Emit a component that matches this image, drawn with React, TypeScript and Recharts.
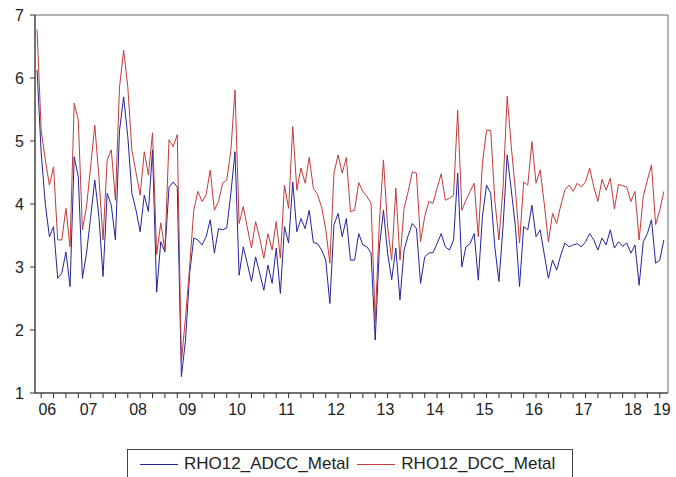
import { LineChart, Line, XAxis, YAxis, ReferenceArea } from 'recharts'

// monthly, Jun 2006 .. Feb 2019
const START_YEAR = 2006
const START_MONTH = 6

const adcc = [
  6.13, 4.81, 4.0, 3.48, 3.64, 2.82, 2.9, 3.24, 2.69, 4.75, 4.43, 2.82, 3.22, 3.8, 4.38, 3.8, 2.85, 4.17, 3.98, 3.43, 5.17, 5.7,
  5.07, 4.17, 3.9, 3.56, 4.14, 3.88, 4.86, 2.6, 3.4, 3.24, 4.27, 4.35, 4.27, 1.26, 1.84, 2.9, 3.46, 3.43, 3.35, 3.48, 3.75, 3.22,
  3.61, 3.59, 3.62, 4.17, 4.83, 2.87, 3.32, 3.05, 2.77, 3.16, 2.9, 2.63, 3.03, 2.74, 3.3, 2.58, 3.64, 3.38, 4.35, 3.56, 3.77, 3.61,
  3.9, 3.39, 3.37, 3.27, 3.11, 2.42, 3.67, 3.85, 3.48, 3.77, 3.11, 3.11, 3.53, 3.35, 3.32, 3.22, 1.84, 3.3, 3.9, 3.22, 2.8,
  3.3, 2.48, 3.27, 3.5, 3.69, 3.61, 2.74, 3.16, 3.22, 3.23, 3.37, 3.53, 3.32, 3.27, 3.43, 4.49, 3.0, 3.32, 3.37, 3.53, 2.79, 3.8,
  4.3, 4.17, 3.32, 2.77, 3.64, 4.78, 4.22, 3.64, 2.69, 3.64, 3.59, 3.98, 3.48, 3.59, 3.2, 2.82, 3.11, 2.95, 3.19, 3.38, 3.32, 3.35,
  3.37, 3.32, 3.4, 3.53, 3.43, 3.27, 3.46, 3.35, 3.59, 3.3, 3.4, 3.33, 3.38, 3.22, 3.35, 2.71, 3.4, 3.53, 3.75, 3.06, 3.11, 3.43,
]

const dcc = [
  6.77, 5.17, 4.7, 4.3, 4.59, 3.43, 3.43, 3.93, 3.32, 5.6, 5.33, 3.59, 3.96, 4.6, 5.25, 4.43, 3.43, 4.7, 4.86, 4.06, 5.86, 6.44,
  5.86, 4.85, 4.5, 4.14, 4.83, 4.46, 5.13, 3.2, 3.7, 3.27, 5.02, 4.91, 5.1, 1.5, 2.2, 3.0, 3.9, 4.2, 4.04, 4.15, 4.54, 3.9,
  4.04, 4.33, 4.38, 4.85, 5.81, 3.69, 3.96, 3.62, 3.3, 3.72, 3.45, 3.14, 3.53, 3.27, 3.72, 3.14, 4.3, 3.93, 5.23, 4.22, 4.57, 4.33,
  4.74, 4.25, 4.15, 3.95, 3.6, 3.06, 4.49, 4.78, 4.49, 4.74, 3.88, 3.9, 4.34, 4.2, 4.12, 4.01, 2.13, 3.7, 4.7, 3.64, 3.11,
  4.25, 3.11, 3.93, 4.2, 4.51, 4.49, 3.4, 3.8, 4.04, 4.01, 4.25, 4.48, 4.06, 4.09, 4.14, 5.49, 3.9, 4.06, 4.2, 4.33, 3.48, 4.65,
  5.17, 5.17, 4.06, 3.43, 4.27, 5.71, 4.91, 4.22, 3.38, 4.35, 4.3, 4.99, 4.33, 4.54, 4.0, 3.4, 3.85, 3.69, 3.98, 4.22, 4.3, 4.2,
  4.33, 4.27, 4.35, 4.57, 4.27, 4.04, 4.39, 4.22, 4.41, 3.92, 4.31, 4.29, 4.27, 4.04, 4.2, 3.43, 4.12, 4.38, 4.62, 3.67, 3.9, 4.2,
]

const yearLabels = ['06', '07', '08', '09', '10', '11', '12', '13', '14', '15', '16', '17', '18', '19']
const yTicks = [1, 2, 3, 4, 5, 6, 7]

const series = [
  { key: 'adcc', name: 'RHO12_ADCC_Metal', color: '#23239a' },
  { key: 'dcc', name: 'RHO12_DCC_Metal', color: '#c43a3a' },
]

const data = adcc.map((v, i) => ({ i, adcc: v, dcc: dcc[i] }))
const last = data.length - 1

// index of January of a given year
const janIdx = (y: number) => (y - START_YEAR) * 12 - (START_MONTH - 1)

// quarter ticks (Jan/Apr/Jul/Oct)
const quarterTicks: number[] = []
for (let i = 0; i <= last; i++) {
  if ((START_MONTH - 1 + i) % 3 === 0) quarterTicks.push(i)
}

// year labels centered over the part of the year that is in the sample
const labelPos = new Map<number, string>()
yearLabels.forEach((lbl, k) => {
  const y = START_YEAR + k
  const a = Math.max(janIdx(y) - 0.5, -1.5)
  const b = Math.min(janIdx(y) + 11.5, last + 0.5)
  labelPos.set((a + b) / 2, lbl)
})

const allTicks = [...quarterTicks, ...labelPos.keys()].sort((a, b) => a - b)
const font = 'Arial, "Liberation Sans", sans-serif'

const XTick = (props: any) => {
  const { x, y, payload } = props
  const lbl = labelPos.get(payload.value)
  if (lbl) {
    return (
      <text x={x} y={y + 22} textAnchor="middle" fontSize={16} fill="#222" fontFamily={font}>
        {lbl}
      </text>
    )
  }
  return <line x1={x} x2={x} y1={y} y2={y + 5} stroke="#333" strokeWidth={1} />
}

export default function App() {
  return (
    <div style={{ position: 'absolute', left: 0, top: 0, width: 676, height: 477, background: '#fff' }}>
      <LineChart width={676} height={430} data={data} margin={{ top: 15, right: 8, bottom: 0, left: 0 }}>
        <XAxis
          dataKey="i"
          type="number"
          domain={[-0.5, last + 1]}
          ticks={allTicks}
          interval={0}
          tick={<XTick />}
          tickSize={0}
          tickMargin={0}
          tickLine={false}
          height={37}
          axisLine={{ stroke: '#333' }}
          allowDecimals
        />
        <YAxis
          domain={[1, 7]}
          ticks={yTicks}
          width={35}
          tickSize={5}
          tickMargin={6}
          tick={{ fontSize: 16, fill: '#222', fontFamily: font }}
          axisLine={{ stroke: '#333' }}
          tickLine={{ stroke: '#333' }}
        />
        <ReferenceArea x1={-0.5} x2={last + 1} y1={1} y2={7} fill="none" stroke="#666" strokeWidth={1} />
        {series.map((s) => (
          <Line
            key={s.key}
            dataKey={s.key}
            name={s.name}
            stroke={s.color}
            strokeWidth={1}
            dot={false}
            type="linear"
            isAnimationActive={false}
          />
        ))}
      </LineChart>
      <div
        style={{
          position: 'absolute',
          left: 127,
          top: 449,
          width: 446,
          height: 40,
          boxSizing: 'border-box',
          border: '1px solid #444',
          display: 'flex',
          alignItems: 'flex-start',
          paddingTop: 4,
          paddingLeft: 12,
          fontFamily: font,
          fontSize: 17,
          color: '#222',
        }}
      >
        {series.map((s, k) => (
          <div key={s.key} style={{ display: 'flex', alignItems: 'center', marginLeft: k ? 8 : 0 }}>
            <span style={{ display: 'inline-block', width: 38, height: 1, background: s.color, marginRight: 6 }} />
            <span>{s.name}</span>
          </div>
        ))}
      </div>
    </div>
  )
}
